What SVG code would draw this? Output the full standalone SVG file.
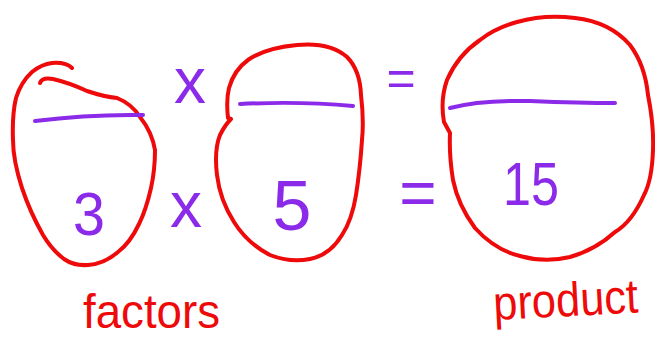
<svg xmlns="http://www.w3.org/2000/svg" width="655" height="347" viewBox="0 0 655 347">
<style>
.ring{fill:none;stroke:#ee0a0a;stroke-width:4;stroke-linecap:round;stroke-linejoin:round}
.blank{fill:none;stroke:#8b2ae8;stroke-width:4;stroke-linecap:round}
.num{font-family:"Liberation Sans","DejaVu Sans",sans-serif;fill:#8b2ae8;text-anchor:middle}
.op{font-family:"Liberation Sans","DejaVu Sans",sans-serif;fill:#8b2ae8;text-anchor:middle}
.lbl{font-family:"Liberation Sans","DejaVu Sans",sans-serif;fill:#ee0a0a;font-size:48px}
</style>
<rect width="655" height="347" fill="#ffffff"/>
<g id="factor-3">
<path class="ring" d="M40,83 Q42,77 53,79 Q70,83 87,91 Q105,97 117,98 Q132,104 140,117 Q152,132 155,150 Q155,170 151,188 Q146,210 139,224 Q130,243 118,252 Q104,264 88,265 Q74,266 64,259 Q52,250 43,235 Q30,212 22,188 Q13,160 13,140 Q12,115 16,98 Q21,82 32,72 Q42,64 52,63 Q66,62 72,68"/>
<path class="blank" d="M35,121 Q90,114 143,115"/>
<text class="num" x="89" y="235" font-size="62" textLength="32" lengthAdjust="spacingAndGlyphs">3</text>
</g>
<g id="factor-5">
<path class="ring" d="M297,45 Q330,42 347,57 Q360,70 361,95 Q364,120 362,140 Q360,170 356,195 Q352,220 342,235 Q330,255 310,259 Q290,263 270,255 Q247,243 234,222 Q220,200 217,175 Q214,150 220,135 Q225,125 231,119 L228,118 Q226,100 229,88 Q234,70 248,60 Q265,48 297,45 Z"/>
<path class="blank" d="M240,104 Q300,101 353,106"/>
<text class="num" x="292" y="230" font-size="70">5</text>
</g>
<g id="product-15">
<path class="ring" d="M517,22 Q545,14 575,18 Q610,22 630,45 Q645,65 648,95 Q654,125 653,150 Q652,180 644,195 Q632,222 615,232 Q595,250 570,257 Q545,263 520,256 Q495,250 475,228 Q458,205 453,180 Q449,155 450,133 L444,122 Q440,100 447,80 Q458,55 480,40 Q495,28 517,22 Z"/>
<path class="blank" d="M450,108 Q480,100 530,101 Q580,103 615,103"/>
<text class="num" x="531" y="205" font-size="62" textLength="56" lengthAdjust="spacingAndGlyphs">15</text>
</g>
<g id="connectors">
<text class="op" x="190" y="103" font-size="64">x</text>
<text class="op" x="186" y="227" font-size="64">x</text>
<text class="op" x="401" y="95" font-size="50">=</text>
<text class="op" x="418" y="215" font-size="64">=</text>
</g>
<g id="labels">
<text class="lbl" x="83" y="328" textLength="137" lengthAdjust="spacingAndGlyphs">factors</text>
<text class="lbl" x="494" y="320" textLength="145" lengthAdjust="spacingAndGlyphs" transform="rotate(-3 494 320)">product</text>
</g>
</svg>
